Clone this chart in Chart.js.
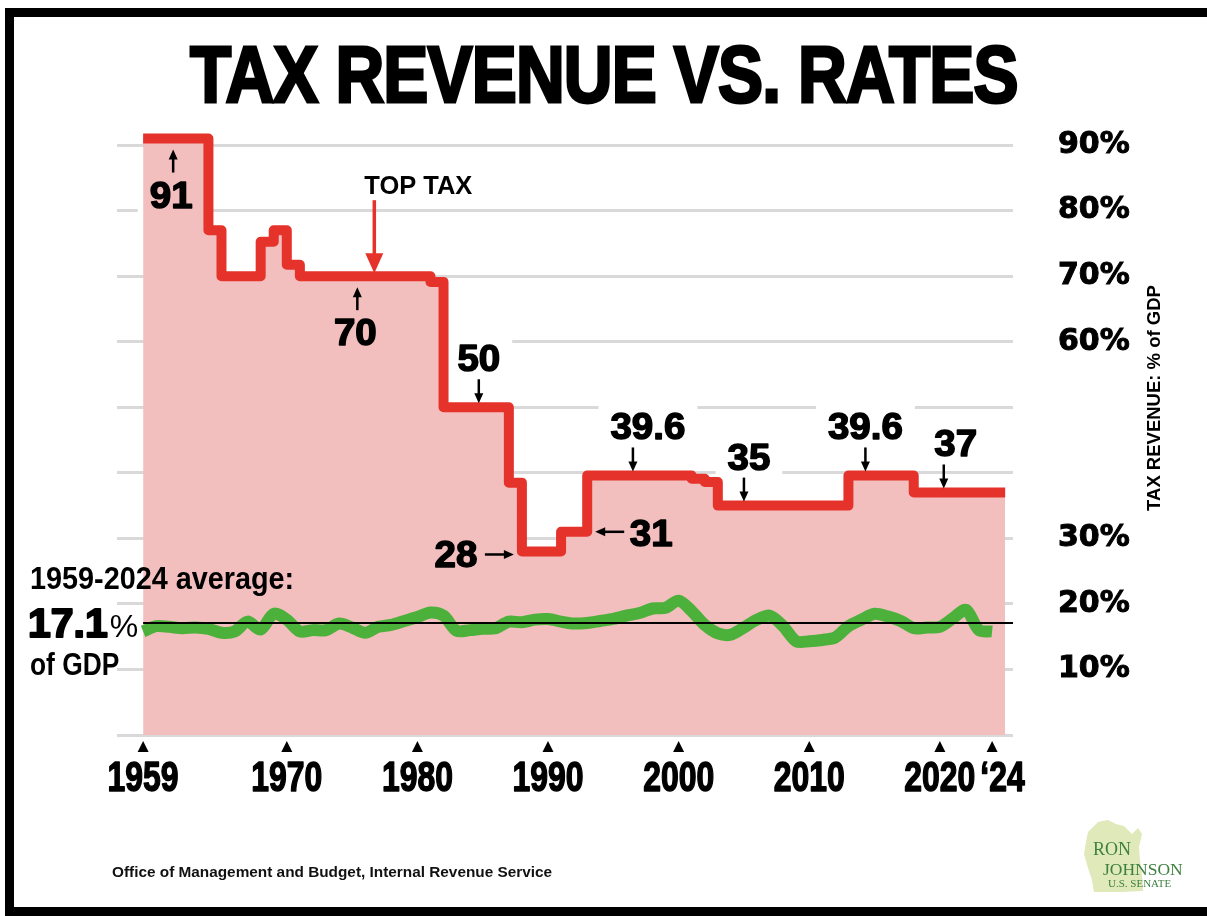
<!DOCTYPE html>
<html>
<head>
<meta charset="utf-8">
<title>Tax revenue vs. rates</title>
<script src="https://cdn.jsdelivr.net/npm/chart.js@4.4.1/dist/chart.umd.min.js"></script>
<style>
  html, body { margin: 0; padding: 0; background: #fff; }
  body { width: 1207px; height: 916px; position: relative; overflow: hidden; }
  #chart { position: absolute; left: 0; top: 0; }
  .frame { position: absolute; left: 5px; top: 8px; width: 1240px; height: 908px; border: 9px solid #000; box-sizing: border-box; pointer-events: none; }
  .headline { position: absolute; left: 190px; top: 35px; font: bold 80px/80px "Liberation Sans", Arial, sans-serif; letter-spacing: -1px; color: #000; -webkit-text-stroke: 3px #000; white-space: nowrap; transform-origin: 0 0; }
  .source { position: absolute; left: 112px; top: 863px; font: bold 15px/18px "Liberation Sans", sans-serif; color: #111; white-space: nowrap; transform-origin: 0 0; }
  .logo { position: absolute; left: 1080px; top: 814px; }
</style>
</head>
<body>
<canvas id="chart" width="1207" height="916"></canvas>
<div class="headline">TAX REVENUE VS. RATES</div>
<div class="source">Office of Management and Budget, Internal Revenue Service</div>
<svg class="logo" width="120" height="90" viewBox="0 0 120 90">
  <path d="M8 18 L18 8 L28 6 L36 10 L44 12 L52 20 L58 14 L62 20 L59 33 L60 46 L62 60 L63 77 L40 78 L14 78 L12 66 L8 54 L4 40 L6 28 Z" fill="#dfe9b9"/>
  <text x="13" y="41" font-family="Liberation Serif, serif" font-size="18" fill="#3f8040">RON</text>
  <text x="23" y="61" font-family="Liberation Serif, serif" font-size="17.5" fill="#3f8040">JOHNSON</text>
  <text x="28" y="73" font-family="Liberation Serif, serif" font-size="11" fill="#3f8040">U.S. SENATE</text>
</svg>
<div class="frame"></div>

<script>
"use strict";

// fiscal years shown
const years = Array.from({ length: 66 }, (_, i) => 1959 + i);

// top marginal income tax rate, %
const topRate = [
  91,
  91, 91, 91, 91, 77, 70, 70, 70, 75.25, 77,
  71.75, 70, 70, 70, 70, 70, 70, 70, 70, 70,
  70, 69.13, 50, 50, 50, 50, 50, 38.5, 28, 28,
  28, 31, 31, 39.6, 39.6, 39.6, 39.6, 39.6, 39.6, 39.6,
  39.6, 39.1, 38.6, 35, 35, 35, 35, 35, 35, 35,
  35, 35, 35, 39.6, 39.6, 39.6, 39.6, 39.6, 37, 37,
  37, 37, 37, 37, 37
];

// federal tax revenue, % of GDP
const revenue = [
  15.8,
  16.6, 16.5, 16.3, 16.4, 16.2, 15.6, 15.8, 17.3, 16.1, 18.5,
  17.6, 15.8, 16.0, 16.0, 17.0, 16.4, 15.6, 16.5, 16.8, 17.4,
  18.0, 18.7, 18.2, 15.9, 16.0, 16.2, 16.3, 17.3, 17.2, 17.6,
  17.7, 17.3, 17.0, 17.1, 17.4, 17.7, 18.2, 18.6, 19.3, 19.4,
  20.5, 18.9, 16.8, 15.5, 15.3, 16.4, 17.6, 18.2, 16.6, 14.3,
  14.3, 14.5, 14.9, 16.6, 17.6, 18.5, 18.1, 17.4, 16.3, 16.4,
  16.5, 17.8, 19.1, 16.0, 15.8
];

const averageRevenue = 17.1;

// axis ticks
const xTickYears = [1959, 1970, 1980, 1990, 2000, 2010, 2020, 2024];
const xTickLabels = ['1959', '1970', '1980', '1990', '2000', '2010', '2020', '\u201824'];
const yTickValues = [0, 10, 20, 30, 40, 50, 60, 70, 80, 90];
const yTickLabels = ['', '10%', '20%', '30%', '', '', '60%', '70%', '80%', '90%'];

// rate callouts: where the arrow sits, which year's rate it names
const callouts = [
  { at: 1961.3, year: 1961, dir: 'up' },
  { at: 1975.4, year: 1975, dir: 'up' },
  { at: 1984.7, year: 1984, dir: 'down' },
  { at: 1988, year: 1988, dir: 'right' },
  { at: 1993, year: 1992, dir: 'left' },
  { at: 1996.5, year: 1996, dir: 'down', dx: 15 },
  { at: 2005, year: 2005, dir: 'down', dx: 5 },
  { at: 2014.3, year: 2014, dir: 'down' },
  { at: 2020.3, year: 2020, dir: 'down', dx: 12 }
];

const firstYear = years[0];
const lastYear = years[years.length - 1];
const xMin = firstYear - 2;
const xMax = lastYear + 1.6;

const SANS = '"Liberation Sans", Arial, sans-serif';
const HEAVY = '"DejaVu Sans", sans-serif';
const NUM_FONT = 'bold 37px ' + SANS;
const NUM_SCALE = 1.04;
const YEAR_FONT = 'bold 42px ' + SANS;
const YEAR_SCALE = 0.76;

const rateOf = (y) => topRate[years.indexOf(y)];

function drawText(ctx, text, x, y, font, opt = {}) {
  ctx.save();
  ctx.font = font;
  ctx.fillStyle = opt.color || '#000';
  ctx.textBaseline = 'alphabetic';
  ctx.textAlign = 'left';
  const sx = opt.scaleX || 1;
  const w = ctx.measureText(text).width * sx;
  let left = x;
  if (opt.align === 'center') left = x - w / 2;
  else if (opt.align === 'right') left = x - w;
  ctx.translate(left, y);
  ctx.scale(sx, 1);
  if (opt.stroke) {
    ctx.lineWidth = opt.stroke;
    ctx.strokeStyle = ctx.fillStyle;
    ctx.lineJoin = 'round';
    ctx.strokeText(text, 0, 0);
  }
  ctx.fillText(text, 0, 0);
  ctx.restore();
  return w;
}

function textWidth(ctx, text, font, sx) {
  ctx.save();
  ctx.font = font;
  const w = ctx.measureText(text).width * (sx || 1);
  ctx.restore();
  return w;
}

function arrow(ctx, x1, y1, x2, y2, color, width, head) {
  const a = Math.atan2(y2 - y1, x2 - x1);
  const c = Math.cos(a), s = Math.sin(a);
  ctx.save();
  ctx.strokeStyle = color;
  ctx.fillStyle = color;
  ctx.lineWidth = width;
  ctx.beginPath();
  ctx.moveTo(x1, y1);
  ctx.lineTo(x2 - c * head * 0.8, y2 - s * head * 0.8);
  ctx.stroke();
  ctx.beginPath();
  ctx.moveTo(x2, y2);
  ctx.lineTo(x2 - head * c + head * 0.45 * s, y2 - head * s - head * 0.45 * c);
  ctx.lineTo(x2 - head * c - head * 0.45 * s, y2 - head * s + head * 0.45 * c);
  ctx.closePath();
  ctx.fill();
  ctx.restore();
}

// where each callout puts its number and arrow
function calloutLayout(c, xs, ys) {
  const value = rateOf(c.year);
  const x = xs.getPixelForValue(c.at);
  const y = ys.getPixelForValue(value);
  const text = String(value);
  const dx = c.dx || 0;
  if (c.dir === 'up') {
    return { text, tx: x - 2, ty: y + 69, from: [x, y + 34], to: [x, y + 11] };
  }
  if (c.dir === 'down') {
    return { text, tx: x + dx, ty: y - 36, from: [x, y - 28], to: [x, y - 4] };
  }
  if (c.dir === 'right') {
    return { text, tx: x - 66, ty: y + 16, from: [x - 37, y + 3], to: [x - 8, y + 3] };
  }
  return { text, tx: x + 64, ty: y + 14, from: [x + 37, y], to: [x + 8, y] };
}

const annotate = {
  id: 'annotate',
  beforeDatasetsDraw(chart) {
    // white patches behind the numbers break the grid lines
    const { ctx, scales: { x: xs, y: ys } } = chart;
    ctx.save();
    ctx.fillStyle = '#fff';
    callouts.forEach((c) => {
      const l = calloutLayout(c, xs, ys);
      const w = textWidth(ctx, l.text, NUM_FONT, NUM_SCALE);
      ctx.fillRect(l.tx - w / 2 - 12, l.ty - 38, w + 24, 50);
    });
    ctx.restore();
  },
  afterDatasetsDraw(chart) {
    const { ctx, chartArea, scales: { x: xs, y: ys } } = chart;

    callouts.forEach((c) => {
      const l = calloutLayout(c, xs, ys);
      arrow(ctx, l.from[0], l.from[1], l.to[0], l.to[1], '#000', 2.5, 10);
      drawText(ctx, l.text, l.tx, l.ty, NUM_FONT, { align: 'center', scaleX: NUM_SCALE, stroke: 1.5 });
    });

    // TOP TAX pointer onto the 70% plateau
    const tx = xs.getPixelForValue(1976.7);
    const ty = ys.getPixelForValue(rateOf(1976));
    arrow(ctx, tx, ty - 76, tx, ty - 3, '#e5322a', 3.5, 20);
    drawText(ctx, 'TOP TAX', tx + 44, ty - 82, 'bold 26px ' + SANS, { align: 'center', scaleX: 0.98 });

    // average revenue label
    const ay = ys.getPixelForValue(averageRevenue);
    drawText(ctx, firstYear + '-' + lastYear + ' average:', 30, ay - 34, 'bold 32px ' + SANS, { scaleX: 0.9 });
    const w = drawText(ctx, averageRevenue.toFixed(1), 28, ay + 14, 'bold 41px ' + SANS, { stroke: 2 });
    drawText(ctx, '%', 28 + w + 2, ay + 14, '32px ' + SANS);
    drawText(ctx, 'of GDP', 30, ay + 52, 'bold 31px ' + SANS, { scaleX: 0.85 });

    // year labels with little pointers above them
    ctx.save();
    ctx.fillStyle = '#000';
    let prevRight = -Infinity;
    xs.ticks.forEach((t, i) => {
      const px = xs.getPixelForValue(t.value);
      ctx.beginPath();
      ctx.moveTo(px, xs.top + 6);
      ctx.lineTo(px + 5.5, xs.top + 17);
      ctx.lineTo(px - 5.5, xs.top + 17);
      ctx.closePath();
      ctx.fill();
      const label = xTickLabels[xTickYears.indexOf(t.value)];
      const lw = textWidth(ctx, label, YEAR_FONT, YEAR_SCALE);
      const left = Math.max(px - lw / 2, prevRight + 5);
      drawText(ctx, label, left, xs.top + 56, YEAR_FONT, { scaleX: YEAR_SCALE, stroke: 1.5 });
      prevRight = left + lw;
    });
    ctx.restore();

    // side title for the revenue scale
    ctx.save();
    ctx.translate(chartArea.right + 142, 398);
    ctx.rotate(-Math.PI / 2);
    ctx.font = 'bold 18.5px ' + SANS;
    ctx.fillStyle = '#000';
    ctx.textAlign = 'center';
    ctx.textBaseline = 'middle';
    ctx.fillText('TAX REVENUE: % of GDP', 0, 0);
    ctx.restore();
  }
};

const rateLine = years.map((y, i) => ({ x: y, y: topRate[i] }));
// the last year's rate holds to the end of that year
rateLine.push({ x: lastYear + 1, y: topRate[topRate.length - 1] });

const revenueLine = years.map((y, i) => ({ x: y, y: revenue[i] }));
const averageLine = [{ x: firstYear, y: averageRevenue }, { x: xMax, y: averageRevenue }];

const ctx = document.getElementById('chart').getContext('2d');
new Chart(ctx, {
  type: 'line',
  data: {
    datasets: [
      {
        label: 'Average revenue',
        data: averageLine,
        borderColor: '#000',
        borderWidth: 2,
        pointRadius: 0,
        fill: false
      },
      {
        label: 'Tax revenue, % of GDP',
        data: revenueLine,
        borderColor: '#4cb13b',
        borderWidth: 12,
        pointRadius: 0,
        tension: 0.3,
        borderJoinStyle: 'round',
        fill: false
      },
      {
        label: 'Top tax rate',
        data: rateLine,
        stepped: true,
        borderColor: '#e5322a',
        borderWidth: 10,
        borderJoinStyle: 'round',
        backgroundColor: '#f3bfbe',
        pointRadius: 0,
        fill: 'origin'
      }
    ]
  },
  options: {
    responsive: false,
    animation: false,
    devicePixelRatio: 1,
    layout: { padding: { left: 117, top: 132, right: 44, bottom: 111 } },
    plugins: {
      legend: { display: false },
      tooltip: { enabled: false }
    },
    scales: {
      x: {
        type: 'linear',
        min: xMin,
        max: xMax,
        grid: { display: false },
        border: { display: false },
        afterBuildTicks: (s) => { s.ticks = xTickYears.map((v) => ({ value: v })); },
        afterFit: (s) => { s.height = 70; },
        ticks: { display: false }
      },
      y: {
        position: 'right',
        min: 0,
        max: 92,
        grid: { color: '#d9d9d9', lineWidth: 3, drawTicks: false },
        border: { display: false },
        afterBuildTicks: (s) => { s.ticks = yTickValues.map((v) => ({ value: v })); },
        afterFit: (s) => { s.width = 150; },
        ticks: {
          padding: 45,
          color: '#000',
          font: { family: HEAVY, size: 30, weight: 'bold' },
          textStrokeColor: '#000',
          textStrokeWidth: 1,
          callback: (v) => yTickLabels[yTickValues.indexOf(v)]
        }
      }
    }
  },
  plugins: [annotate]
});

// squeeze the headline and source line to their widths
const head = document.querySelector('.headline');
head.style.transform = 'scaleX(' + (828 / head.offsetWidth) + ')';
const src = document.querySelector('.source');
src.style.transform = 'scaleX(' + (440 / src.offsetWidth) + ')';
</script>
</body>
</html>
